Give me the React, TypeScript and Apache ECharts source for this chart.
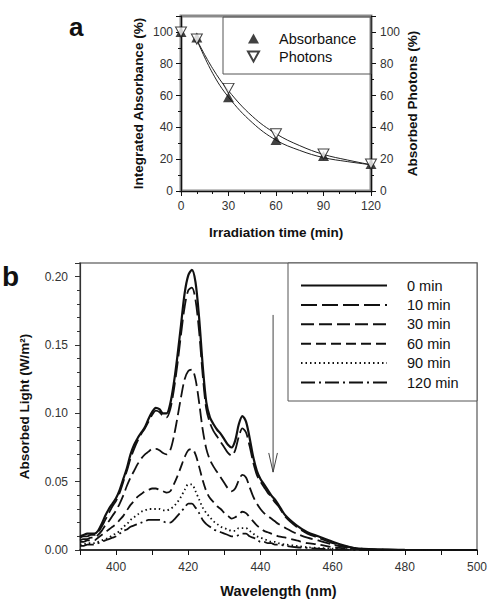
import React, { useEffect, useRef } from "react";
import * as echarts from "echarts";

// ---------- Panel a ----------
const TIME_MIN = [0, 10, 30, 60, 90, 120];
const ABSORBANCE = [100, 96.5, 59, 32, 22, 17];
const PHOTONS = [100, 95.5, 64.5, 36, 23.3, 17];
const FIT_TIME = [10, 20, 30, 45, 60, 75, 90, 105, 120];
const FIT_ABS = [95, 74, 59, 43, 32, 25.5, 21, 18.5, 16.5];
const FIT_PHO = [95, 77, 63, 47, 36, 28.5, 23, 19.5, 16.5];
const A_TICKS = [0, 20, 40, 60, 80, 100];

// ---------- Panel b ----------
const WAVELENGTH = [
  390, 391, 392, 393, 394, 395, 396, 397, 398, 399,
  400, 401, 402, 403, 404, 405, 406, 407, 408, 409,
  410, 411, 412, 413, 414, 415, 416, 417, 418, 419,
  420, 421, 422, 423, 424, 425, 426, 427, 428, 429,
  430, 431, 432, 433, 434, 435, 436, 437, 438, 439,
  440, 441, 442, 443, 444, 445,
  447, 450, 453, 456, 460, 465, 470, 480, 490, 500,
];
const SPEC_0 = [
  0.010, 0.011, 0.012, 0.012, 0.012, 0.014, 0.019, 0.025, 0.030, 0.034,
  0.038, 0.044, 0.052, 0.060, 0.070, 0.077, 0.082, 0.086, 0.090, 0.096,
  0.101, 0.104, 0.103, 0.100, 0.100, 0.107, 0.122, 0.142, 0.165, 0.188,
  0.201, 0.205, 0.196, 0.170, 0.135, 0.108, 0.097, 0.092, 0.088, 0.085,
  0.081, 0.077, 0.075, 0.080, 0.092, 0.098, 0.094, 0.082, 0.068, 0.058,
  0.052, 0.048, 0.044, 0.040, 0.037, 0.033,
  0.025, 0.018, 0.013, 0.010, 0.006, 0.002, 0.0006, 0.0001, 0, 0,
];
const SPEC_10 = [
  0.009, 0.010, 0.010, 0.011, 0.011, 0.013, 0.017, 0.022, 0.027, 0.032,
  0.036, 0.042, 0.050, 0.058, 0.067, 0.074, 0.080, 0.085, 0.089, 0.094,
  0.099, 0.102, 0.101, 0.098, 0.097, 0.103, 0.117, 0.136, 0.158, 0.178,
  0.190, 0.192, 0.183, 0.160, 0.128, 0.103, 0.093, 0.087, 0.083, 0.079,
  0.075, 0.071, 0.069, 0.073, 0.083, 0.089, 0.086, 0.076, 0.064, 0.055,
  0.050, 0.046, 0.042, 0.039, 0.035, 0.032,
  0.024, 0.017, 0.012, 0.009, 0.005, 0.002, 0.0005, 0.0001, 0, 0,
];
const SPEC_30 = [
  0.007, 0.008, 0.008, 0.009, 0.009, 0.011, 0.014, 0.018, 0.021, 0.025,
  0.029, 0.034, 0.040, 0.047, 0.053, 0.058, 0.063, 0.067, 0.070, 0.072,
  0.074, 0.074, 0.073, 0.071, 0.070, 0.073, 0.083, 0.097, 0.112, 0.125,
  0.131, 0.132, 0.125, 0.108, 0.088, 0.074, 0.066, 0.061, 0.057, 0.053,
  0.049, 0.045, 0.043, 0.045, 0.051, 0.055, 0.053, 0.046, 0.039, 0.034,
  0.030, 0.027, 0.025, 0.023, 0.021, 0.019,
  0.016, 0.012, 0.009, 0.007, 0.004, 0.0015, 0.0004, 0.0001, 0, 0,
];
const SPEC_60 = [
  0.006, 0.006, 0.007, 0.007, 0.007, 0.009, 0.011, 0.013, 0.015, 0.017,
  0.019, 0.022, 0.025, 0.029, 0.033, 0.036, 0.039, 0.041, 0.043, 0.044,
  0.045, 0.045, 0.044, 0.043, 0.042, 0.043, 0.048, 0.054, 0.061, 0.068,
  0.073, 0.074, 0.070, 0.061, 0.051, 0.043, 0.038, 0.035, 0.032, 0.030,
  0.027, 0.025, 0.023, 0.024, 0.026, 0.028, 0.027, 0.024, 0.021, 0.018,
  0.016, 0.014, 0.013, 0.012, 0.011, 0.010,
  0.009, 0.007, 0.005, 0.004, 0.002, 0.001, 0.0003, 0, 0, 0,
];
const SPEC_90 = [
  0.004, 0.004, 0.005, 0.005, 0.005, 0.006, 0.007, 0.008, 0.009, 0.011,
  0.012, 0.014, 0.017, 0.019, 0.022, 0.024, 0.026, 0.028, 0.029, 0.030,
  0.030, 0.030, 0.030, 0.029, 0.029, 0.030, 0.032, 0.035, 0.039, 0.044,
  0.048, 0.048, 0.043, 0.037, 0.031, 0.027, 0.024, 0.021, 0.019, 0.017,
  0.016, 0.015, 0.014, 0.014, 0.016, 0.016, 0.016, 0.014, 0.012, 0.010,
  0.009, 0.008, 0.007, 0.006, 0.006, 0.005,
  0.004, 0.003, 0.002, 0.0015, 0.001, 0.0005, 0.0002, 0, 0, 0,
];
const SPEC_120 = [
  0.003, 0.003, 0.004, 0.004, 0.004, 0.005, 0.006, 0.007, 0.008, 0.009,
  0.010, 0.012, 0.014, 0.015, 0.017, 0.018, 0.019, 0.020, 0.021, 0.022,
  0.022, 0.022, 0.022, 0.021, 0.020, 0.020, 0.022, 0.025, 0.028, 0.031,
  0.034, 0.034, 0.031, 0.027, 0.022, 0.019, 0.017, 0.015, 0.014, 0.013,
  0.012, 0.011, 0.010, 0.010, 0.011, 0.012, 0.012, 0.010, 0.009, 0.008,
  0.006, 0.006, 0.005, 0.005, 0.004, 0.004,
  0.003, 0.002, 0.0015, 0.001, 0.0005, 0.0002, 0, 0, 0, 0,
];
const SPECTRA_NAMES = ["0 min", "10 min", "30 min", "60 min", "90 min", "120 min"];
const SPECTRA = [SPEC_0, SPEC_10, SPEC_30, SPEC_60, SPEC_90, SPEC_120];
const SPECTRA_DASH: (string | number[])[] = ["solid", [16, 5], [13, 5], [10, 5], [1.5, 3], [14, 4, 2, 4]];
const SPECTRA_WIDTH = [2.2, 1.8, 1.8, 1.8, 1.8, 1.8];

// arrow annotation (data coords)
const ARROW_SHAFT = [[443.5, 0.172], [443.5, 0.057]];
const ARROW_HEAD = [[442.3, 0.071], [443.5, 0.057], [444.7, 0.071]];

const FONT = "'Liberation Sans', Arial, sans-serif";
const INK = "#111";
const LABEL = "#333";

function buildOption(): any {
  const tickLabel = { color: LABEL, fontSize: 12, fontFamily: FONT };
  const nameStyle = { color: INK, fontSize: 13.5, fontWeight: "bold", fontFamily: FONT };
  const axisLine = { show: true, lineStyle: { color: INK, width: 1.2 } };

  const spectraSeries = SPECTRA.map((arr, i) => ({
    name: SPECTRA_NAMES[i],
    type: "line",
    xAxisIndex: 1,
    yAxisIndex: 2,
    data: WAVELENGTH.map((w, j) => [w, arr[j]]),
    symbol: "none",
    smooth: 0.3,
    lineStyle: { color: INK, width: SPECTRA_WIDTH[i], type: SPECTRA_DASH[i] },
    itemStyle: { color: INK },
    z: 3,
  }));

  return {
    animation: false,
    backgroundColor: "#fff",
    textStyle: { fontFamily: FONT },
    grid: [
      { left: 181, right: 123, top: 16, bottom: 410, show: true, borderColor: "#8a8a8a", borderWidth: 3, backgroundColor: "transparent" },
      { left: 80, right: 17, top: 263, bottom: 51, show: true, borderColor: "#9a9a9a", borderWidth: 2, backgroundColor: "transparent" },
    ],
    xAxis: [
      {
        type: "value", gridIndex: 0, min: 0, max: 120, interval: 30,
        axisLine, axisTick: { show: true, inside: false, length: 5, lineStyle: { color: INK } },
        minorTick: { show: true, splitNumber: 3, length: 3, lineStyle: { color: INK } },
        splitLine: { show: false },
        axisLabel: { ...tickLabel, margin: 9 },
        name: "Irradiation time (min)", nameLocation: "middle", nameGap: 34, nameTextStyle: nameStyle,
      },
      {
        type: "value", gridIndex: 1, min: 390, max: 500, interval: 10,
        axisLine: { show: true, lineStyle: { color: INK, width: 1.6 } },
        axisTick: { show: true, inside: false, length: 5, lineStyle: { color: INK } },
        splitLine: { show: false },
        axisLabel: {
          ...tickLabel, margin: 11,
          formatter: (v: number) => (v % 20 === 0 ? String(v) : ""),
        },
        name: "Wavelength (nm)", nameLocation: "middle", nameGap: 33,
        nameTextStyle: { ...nameStyle, fontSize: 14.5 },
      },
    ],
    yAxis: [
      {
        type: "value", gridIndex: 0, min: 0, max: 110, interval: 20, position: "left",
        axisLine, axisTick: { show: true, inside: false, length: 5, lineStyle: { color: INK } },
        minorTick: { show: true, splitNumber: 2, length: 3, lineStyle: { color: INK } },
        splitLine: { show: false },
        axisLabel: { ...tickLabel, margin: 8, showMaxLabel: false, formatter: (v: number) => (A_TICKS.includes(v) ? String(v) : "") },
        name: "Integrated Absorbance (%)", nameLocation: "middle", nameGap: 36, nameRotate: 90, nameTextStyle: nameStyle,
      },
      {
        type: "value", gridIndex: 0, min: 0, max: 110, interval: 20, position: "right",
        axisLine, axisTick: { show: true, inside: false, length: 5, lineStyle: { color: INK } },
        minorTick: { show: true, splitNumber: 2, length: 3, lineStyle: { color: INK } },
        splitLine: { show: false },
        axisLabel: { ...tickLabel, margin: 9, showMaxLabel: false, formatter: (v: number) => (A_TICKS.includes(v) ? String(v) : "") },
        name: "Absorbed Photons (%)", nameLocation: "middle", nameGap: 34, nameRotate: 90, nameTextStyle: nameStyle,
      },
      {
        type: "value", gridIndex: 1, min: 0, max: 0.21, interval: 0.05,
        axisLine: { show: true, lineStyle: { color: "#333", width: 1.2 } },
        axisTick: { show: true, inside: false, length: 5, lineStyle: { color: "#333" } },
        minorTick: { show: true, splitNumber: 5, length: 3, lineStyle: { color: "#333" } },
        splitLine: { show: false },
        axisLabel: { ...tickLabel, margin: 12, showMaxLabel: false, formatter: (v: number) => v.toFixed(2) },
        name: "Absorbed Light (W/m²)", nameLocation: "middle", nameGap: 49, nameRotate: 90, nameTextStyle: nameStyle,
      },
    ],
    legend: [
      {
        orient: "vertical", left: 247, top: 31, padding: 0, itemGap: 3, itemWidth: 11, itemHeight: 10,
        textStyle: { color: INK, fontSize: 14.5, lineHeight: 14, fontFamily: FONT, padding: [0, 0, 0, 15] },
        data: [
          { name: "Absorbance", icon: "triangle" },
          { name: "Photons", icon: "path://M0,0 L10,0 L5,9 Z" },
        ],
        selectedMode: false,
      },
      {
        orient: "vertical", left: 300, top: 278, padding: 0, itemGap: 4.4, itemWidth: 86, itemHeight: 14,
        textStyle: { color: INK, fontSize: 14.5, lineHeight: 14, fontFamily: FONT, padding: [0, 0, 0, 15] },
        itemStyle: { opacity: 0 },
        data: SPECTRA_NAMES,
        selectedMode: false,
      },
    ],
    graphic: [
      { type: "rect", shape: { x: 223, y: 17, width: 148, height: 57 }, style: { fill: "none", stroke: "#555", lineWidth: 1 }, z: 1 },
      { type: "rect", shape: { x: 288, y: 263, width: 189, height: 138 }, style: { fill: "#fff", stroke: "#555", lineWidth: 1 }, z: 1 },
      { type: "text", left: 69, top: 14, style: { text: "a", font: `bold 26px ${FONT}`, fill: INK } },
      { type: "text", left: 2, top: 262, style: { text: "b", font: `bold 28px ${FONT}`, fill: INK } },
    ],
    series: [
      {
        name: "fitAbs", type: "line", xAxisIndex: 0, yAxisIndex: 0,
        data: FIT_TIME.map((t, i) => [t, FIT_ABS[i]]), symbol: "none", smooth: 0.4,
        lineStyle: { color: "#222", width: 1 }, z: 2,
      },
      {
        name: "fitPho", type: "line", xAxisIndex: 0, yAxisIndex: 0,
        data: FIT_TIME.map((t, i) => [t, FIT_PHO[i]]), symbol: "none", smooth: 0.4,
        lineStyle: { color: "#222", width: 1 }, z: 2,
      },
      {
        name: "Absorbance", type: "scatter", xAxisIndex: 0, yAxisIndex: 0,
        data: TIME_MIN.map((t, i) => [t, ABSORBANCE[i]]), symbol: "triangle", symbolSize: [11, 10],
        itemStyle: { color: INK }, z: 4,
      },
      {
        name: "Photons", type: "scatter", xAxisIndex: 0, yAxisIndex: 0,
        data: TIME_MIN.map((t, i) => [t, PHOTONS[i]]), symbol: "path://M0,0 L10,0 L5,9 Z", symbolSize: [11, 10],
        itemStyle: { color: "#fff", borderColor: INK, borderWidth: 1 }, z: 5,
      },
      ...spectraSeries,
      {
        name: "arrowShaft", type: "line", xAxisIndex: 1, yAxisIndex: 2, data: ARROW_SHAFT, symbol: "none",
        lineStyle: { color: "#444", width: 1 }, z: 3,
      },
      {
        name: "arrowHead", type: "line", xAxisIndex: 1, yAxisIndex: 2, data: ARROW_HEAD, symbol: "none",
        lineStyle: { color: "#444", width: 1 }, z: 3,
      },
    ],
  };
}

export default function App() {
  const ref = useRef<HTMLDivElement>(null);
  useEffect(() => {
    if (!ref.current) return;
    const chart = echarts.init(ref.current, null, { renderer: "svg" });
    chart.setOption(buildOption());
    return () => chart.dispose();
  }, []);
  return (
    <div
      ref={ref}
      style={{ position: "absolute", left: 0, top: 0, width: 494, height: 601, background: "#fff" }}
    />
  );
}
